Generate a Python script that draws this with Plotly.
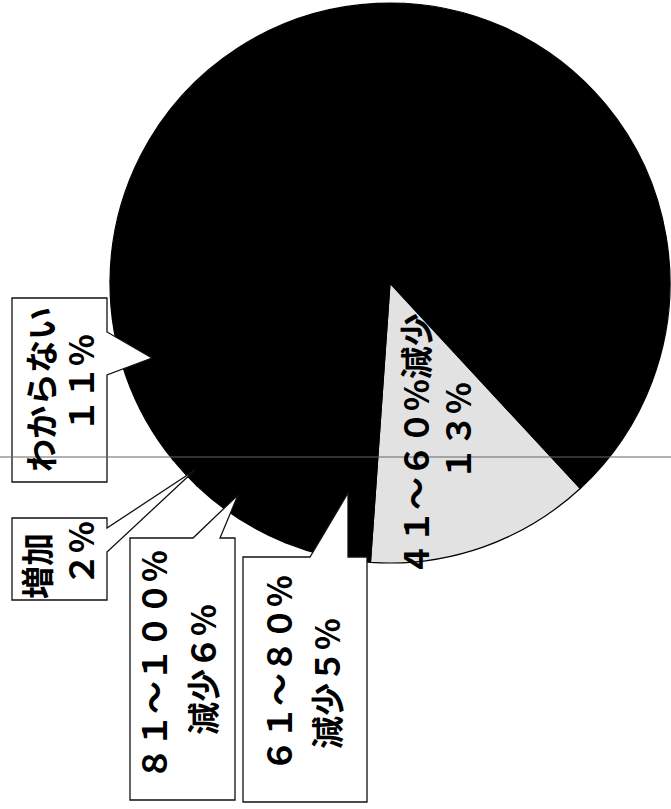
import plotly.graph_objects as go

W, H = 671, 809

# --- データ ---
labels = ["41～60%減少", "61～80%減少", "81～100%減少", "増加", "わからない", "その他"]
values = [13, 5, 6, 2, 11, 63]
colors = ["#e2e2e2", "#000000", "#000000", "#000000", "#000000", "#000000"]

# 吹き出しの文字（2行）
line1 = ["４１～６０%減少", "６１～８０%", "８１～１００%", "増加", "わからない"]
line2 = ["１３%", "減少５%", "減少６%", "２%", "１１%"]


def px(x, y):
    return x / W, 1 - y / H


def path_px(pts):
    s = ""
    for i, (x, y) in enumerate(pts):
        fx, fy = px(x, y)
        s += ("M" if i == 0 else "L") + f"{fx:.5f},{fy:.5f} "
    return s + "Z"


fig = go.Figure()

# --- 円グラフ（90度回転したスキャン）---
fig.add_trace(go.Pie(
    labels=labels,
    values=values,
    sort=False,
    direction="clockwise",
    rotation=137.2,
    marker=dict(colors=colors, line=dict(color="#000000", width=1.2)),
    textinfo="none",
    hoverinfo="label+percent",
    showlegend=False,
    domain=dict(x=[110 / W, 670 / W], y=[1 - 563 / H, 1 - 3 / H]),
))

# --- 吹き出し枠 ---
callouts = [
    [(12, 298), (107, 298), (107, 332), (152, 358), (107, 375), (107, 482), (12, 482)],
    [(12, 518), (107, 518), (107, 528), (195, 470), (107, 552), (107, 600), (12, 600)],
    [(130, 538), (193, 538), (238, 495), (220, 538), (235, 538), (235, 800), (130, 800)],
    [(243, 557), (310, 557), (348, 493), (348, 557), (367, 557), (367, 802), (243, 802)],
]
shapes = []
for pts in callouts:
    shapes.append(dict(type="path", xref="paper", yref="paper", path=path_px(pts),
                       fillcolor="#ffffff", line=dict(color="#111111", width=1.3),
                       layer="above"))

# 横に走るスキャンの線
x0, y0 = px(0, 457)
x1, _ = px(671, 457)
shapes.append(dict(type="line", xref="paper", yref="paper", x0=x0, y0=y0, x1=x1, y1=y0,
                   line=dict(color="#666666", width=1.2), layer="above"))

# --- 文字（縦向き）---
pos1 = [(415, 445), (278, 674), (153, 665), (36, 566), (40, 390)]
pos2 = [(457, 431), (326, 684), (202, 670), (80, 554), (80, 383)]
annotations = []
for txt, (x, y) in list(zip(line1, pos1)) + list(zip(line2, pos2)):
    fx, fy = px(x, y)
    annotations.append(dict(
        text=txt, x=fx, y=fy, xref="paper", yref="paper",
        xanchor="center", yanchor="middle", textangle=-90, showarrow=False,
        font=dict(family="Noto Sans CJK JP", size=33, color="#000000", weight="bold"),
    ))

fig.update_layout(
    width=W, height=H,
    margin=dict(l=0, r=0, t=0, b=0),
    paper_bgcolor="#ffffff",
    plot_bgcolor="#ffffff",
    shapes=shapes,
    annotations=annotations,
)

fig.write_html("out.html", config={"displayModeBar": False},
               post_script="document.body.style.margin='0';")
